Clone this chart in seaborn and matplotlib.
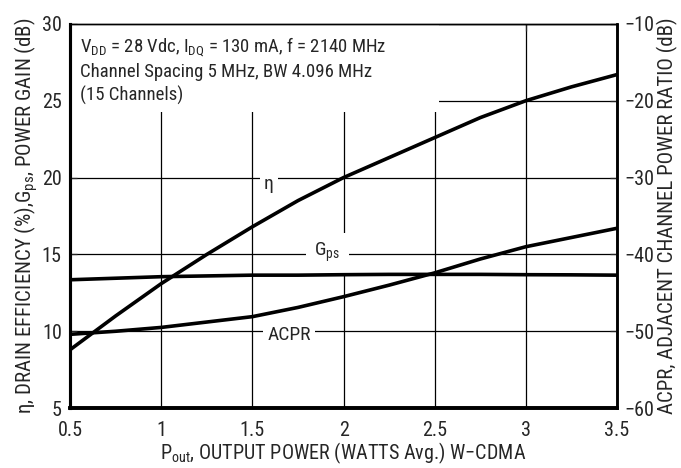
import numpy as np
import pandas as pd
import matplotlib
matplotlib.use("Agg")
import matplotlib.pyplot as plt
import seaborn as sns
from matplotlib.patches import Rectangle

# values
pout = [0.5, 0.75, 1.0, 1.25, 1.5, 1.75, 2.0, 2.25, 2.5, 2.75, 3.0, 3.25, 3.5]
eta = [8.8, 11.0, 13.1, 15.0, 16.8, 18.5, 20.0, 21.3, 22.6, 23.9, 25.0, 25.9, 26.7]
gps = [13.35, 13.45, 13.55, 13.6, 13.65, 13.65, 13.68, 13.7, 13.7, 13.7, 13.68, 13.67, 13.65]
acpr = [-50.4, -50.0, -49.5, -48.8, -48.1, -46.9, -45.5, -44.0, -42.4, -40.6, -39.0, -37.8, -36.6]

x_ticks = [0.5, 1, 1.5, 2, 2.5, 3, 3.5]
x_ticklabels = ['0.5', '1', '1.5', '2', '2.5', '3', '3.5']
left_ticks = [5, 10, 15, 20, 25, 30]
right_ticks = [-60, -50, -40, -30, -20, -10]

df = pd.DataFrame({'pout': pout, 'eta': eta, 'gps': gps, 'acpr': acpr})

sns.set_style("white")
fam = ['Roboto Condensed', 'DejaVu Sans']
plt.rcParams['font.family'] = fam
plt.rcParams['mathtext.fontset'] = 'custom'
plt.rcParams['mathtext.rm'] = 'Roboto Condensed'
plt.rcParams['axes.unicode_minus'] = True

fig = plt.figure(figsize=(6.81, 4.68), dpi=100)
ax = fig.add_axes([0.103, 0.128, 0.803, 0.821])
ax2 = ax.twinx()

ax.set_xlim(0.5, 3.5)
ax.set_ylim(5, 30)
ax2.set_ylim(-60, -10)
ax.set_axisbelow(True)
ax.grid(True, color='black', lw=0.9)

sns.lineplot(data=df, x='pout', y='eta', ax=ax, color='black', lw=2.6, zorder=3)
sns.lineplot(data=df, x='pout', y='gps', ax=ax, color='black', lw=2.6, zorder=3)
sns.lineplot(data=df, x='pout', y='acpr', ax=ax2, color='black', lw=2.6, zorder=3)

# white area behind the condition text
ax.add_patch(Rectangle((0, 0.77), 0.675, 0.23, transform=ax.transAxes,
                       facecolor='white', edgecolor='none', zorder=1))

ax.text(0.018, 0.970,
        'V$\\mathregular{_{DD}}$ = 28 Vdc, I$\\mathregular{_{DQ}}$ = 130 mA, f = 2140 MHz\n'
        'Channel Spacing 5 MHz, BW 4.096 MHz\n(15 Channels)',
        transform=ax.transAxes, ha='left', va='top', fontsize=13.5,
        linespacing=1.33, zorder=4)

box = dict(facecolor='white', edgecolor='none', pad=3)
ax.text(1.59, 19.6, 'η', fontsize=14, ha='center', va='center', bbox=box, zorder=2.5)
ax.text(1.91, 15.1, 'G$\\mathregular{_{ps}}$', fontsize=14, ha='center', va='center',
        bbox=dict(facecolor='white', edgecolor='none', pad=6), zorder=2.5)
ax.text(1.70, 9.75, 'ACPR', fontsize=14, ha='center', va='center', bbox=box, zorder=2.5)

ax.set_xticks(x_ticks)
ax.set_xticklabels(x_ticklabels)
ax.set_yticks(left_ticks)
ax2.set_yticks(right_ticks)
ax.tick_params(axis='y', direction='in', length=5, labelsize=14.5, width=0.9, pad=6)
ax.tick_params(axis='x', direction='in', length=5, labelsize=14.5, width=0.9,
               top=True, pad=9)
ax2.tick_params(axis='y', direction='in', length=5, labelsize=14.5, width=0.9, pad=5)

ax.set_xlabel('P$\\mathregular{_{out}}$, OUTPUT POWER (WATTS Avg.) W−CDMA', fontsize=14.5, labelpad=1)
ax.set_ylabel('η, DRAIN EFFICIENCY (%),G$\\mathregular{_{ps}}$, POWER GAIN (dB)', fontsize=15, labelpad=1)
ax2.set_ylabel('ACPR, ADJACENT CHANNEL POWER RATIO (dB)', fontsize=15, labelpad=2)

for a in (ax, ax2):
    for s in a.spines.values():
        s.set_color('black')
    a.spines['left'].set_linewidth(2.2)
    a.spines['bottom'].set_linewidth(2.6)
    a.spines['right'].set_linewidth(1.8)
    a.spines['top'].set_linewidth(1.0)
ax2.set_xlabel('')

plt.savefig('out.png', dpi=100)
plt.close()
